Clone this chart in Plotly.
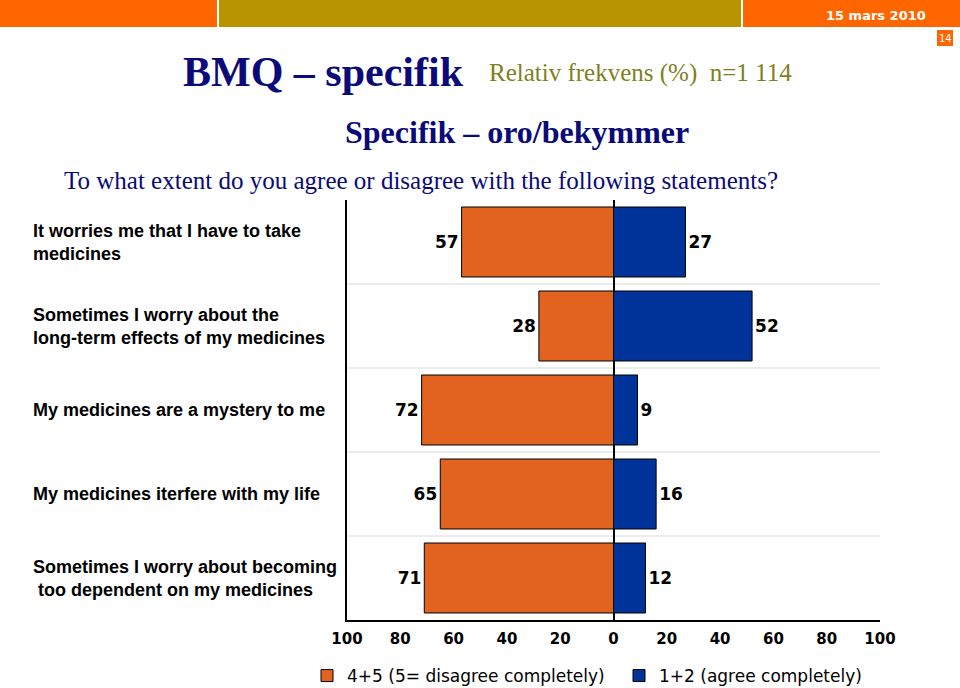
import plotly.graph_objects as go

categories = [
    "It worries me that I have to take<br>medicines",
    "Sometimes I worry about the<br>long-term effects of my medicines",
    "My medicines are a mystery to me",
    "My medicines iterfere with my life",
    "Sometimes I worry about becoming<br> too dependent on my medicines",
]
disagree = [57, 28, 72, 65, 71]
agree = [27, 52, 9, 16, 12]
tick_values = [-100, -80, -60, -40, -20, 0, 20, 40, 60, 80, 100]
tick_labels = ["100", "80", "60", "40", "20", "0", "20", "40", "60", "80", "100"]
series_names = ["4+5 (5= disagree completely)", "1+2 (agree completely)"]

W, H = 960, 688
ML, MR, MT, MB = 347, 80, 200, 68
PW, PH = W - ML - MR, H - MT - MB


def px(x):
    return (x - ML) / PW


def py(y):
    return (H - MB - y) / PH


ORANGE = "#E2621F"
BLUE = "#003399"
NAVY = "#0A0A78"

fig = go.Figure()
fig.add_trace(go.Bar(
    y=categories, x=[-v for v in disagree], orientation="h",
    name=series_names[0],
    marker=dict(color=ORANGE, line=dict(color="black", width=1)),
    text=[str(v) for v in disagree], textposition="outside",
    textfont=dict(family="DejaVu Sans", size=17, color="black", weight="bold"),
    constraintext="none", cliponaxis=False, hoverinfo="skip",
))
fig.add_trace(go.Bar(
    y=categories, x=agree, orientation="h",
    name=series_names[1],
    marker=dict(color=BLUE, line=dict(color="black", width=1)),
    text=[str(v) for v in agree], textposition="outside",
    textfont=dict(family="DejaVu Sans", size=17, color="black", weight="bold"),
    constraintext="none", cliponaxis=False, hoverinfo="skip",
))

shapes = []
# separators between categories
for i in range(len(categories) - 1):
    shapes.append(dict(type="line", xref="paper", x0=0, x1=1, yref="y",
                       y0=i + 0.5, y1=i + 0.5,
                       line=dict(color="#D9D9D9", width=1), layer="below"))
# header bars
shapes += [
    dict(type="rect", xref="paper", yref="paper", x0=px(0), x1=px(217),
         y0=py(27), y1=py(0), fillcolor="#FF6600", line=dict(width=0)),
    dict(type="rect", xref="paper", yref="paper", x0=px(219), x1=px(741),
         y0=py(27), y1=py(0), fillcolor="#B89400", line=dict(width=0)),
    dict(type="rect", xref="paper", yref="paper", x0=px(743), x1=px(960),
         y0=py(27), y1=py(0), fillcolor="#FF6600", line=dict(width=0)),
    dict(type="rect", xref="paper", yref="paper", x0=px(937), x1=px(953),
         y0=py(46), y1=py(30), fillcolor="#FF6600", line=dict(width=0)),
]

annotations = [
    dict(text="15 mars 2010", x=px(928), y=py(15), xanchor="right", yanchor="middle",
         font=dict(family="DejaVu Sans", size=13, color="white", weight="bold")),
    dict(text="14", x=px(945), y=py(38), xanchor="center", yanchor="middle",
         font=dict(family="DejaVu Sans", size=10, color="white")),
    dict(text="<b>BMQ – specifik</b>", x=px(181), y=py(72), xanchor="left", yanchor="middle",
         font=dict(family="Liberation Serif", size=42, color=NAVY)),
    dict(text="Relativ frekvens (%)  n=1 114", x=px(487), y=py(73), xanchor="left", yanchor="middle",
         font=dict(family="Liberation Serif", size=25, color="#7F7F22")),
    dict(text="<b>Specifik – oro/bekymmer</b>", x=px(343), y=py(132), xanchor="left", yanchor="middle",
         font=dict(family="Liberation Serif", size=32, color=NAVY)),
    dict(text="To what extent do you agree or disagree with the following statements?",
         x=px(62), y=py(181), xanchor="left", yanchor="middle",
         font=dict(family="Liberation Serif", size=25, color=NAVY)),
]
for c in categories:
    annotations.append(dict(text=c, xref="paper", x=px(31), yref="y", y=c,
                            xanchor="left", yanchor="middle", align="left",
                            font=dict(family="Liberation Sans", size=18, color="black",
                                      weight="bold")))
for a in annotations:
    a.setdefault("xref", "paper")
    a.setdefault("yref", "paper")
    a["showarrow"] = False

fig.update_layout(
    width=W, height=H, autosize=False,
    margin=dict(l=ML, r=MR, t=MT, b=MB, pad=0, autoexpand=False),
    paper_bgcolor="white", plot_bgcolor="white",
    barmode="relative", bargap=0.167,
    showlegend=True,
    legend=dict(orientation="h", x=px(307), y=py(676), xanchor="left", yanchor="middle",
                font=dict(family="DejaVu Sans", size=17, color="black"),
                entrywidth=267, traceorder="normal", bgcolor="rgba(0,0,0,0)"),
    xaxis=dict(range=[-100, 100], tickvals=tick_values, ticktext=tick_labels,
               showgrid=False, zeroline=True, zerolinecolor="black", zerolinewidth=2,
               showline=True, linecolor="black", linewidth=1.5, ticks="",
               ticklabelstandoff=4, automargin=False,
               tickfont=dict(family="DejaVu Sans", size=15, color="black", weight="bold")),
    yaxis=dict(autorange="reversed", showticklabels=False, showgrid=False,
               showline=True, linecolor="black", linewidth=1.5, ticks="",
               automargin=False),
    shapes=shapes, annotations=annotations,
)

fig.write_html("out.html")
